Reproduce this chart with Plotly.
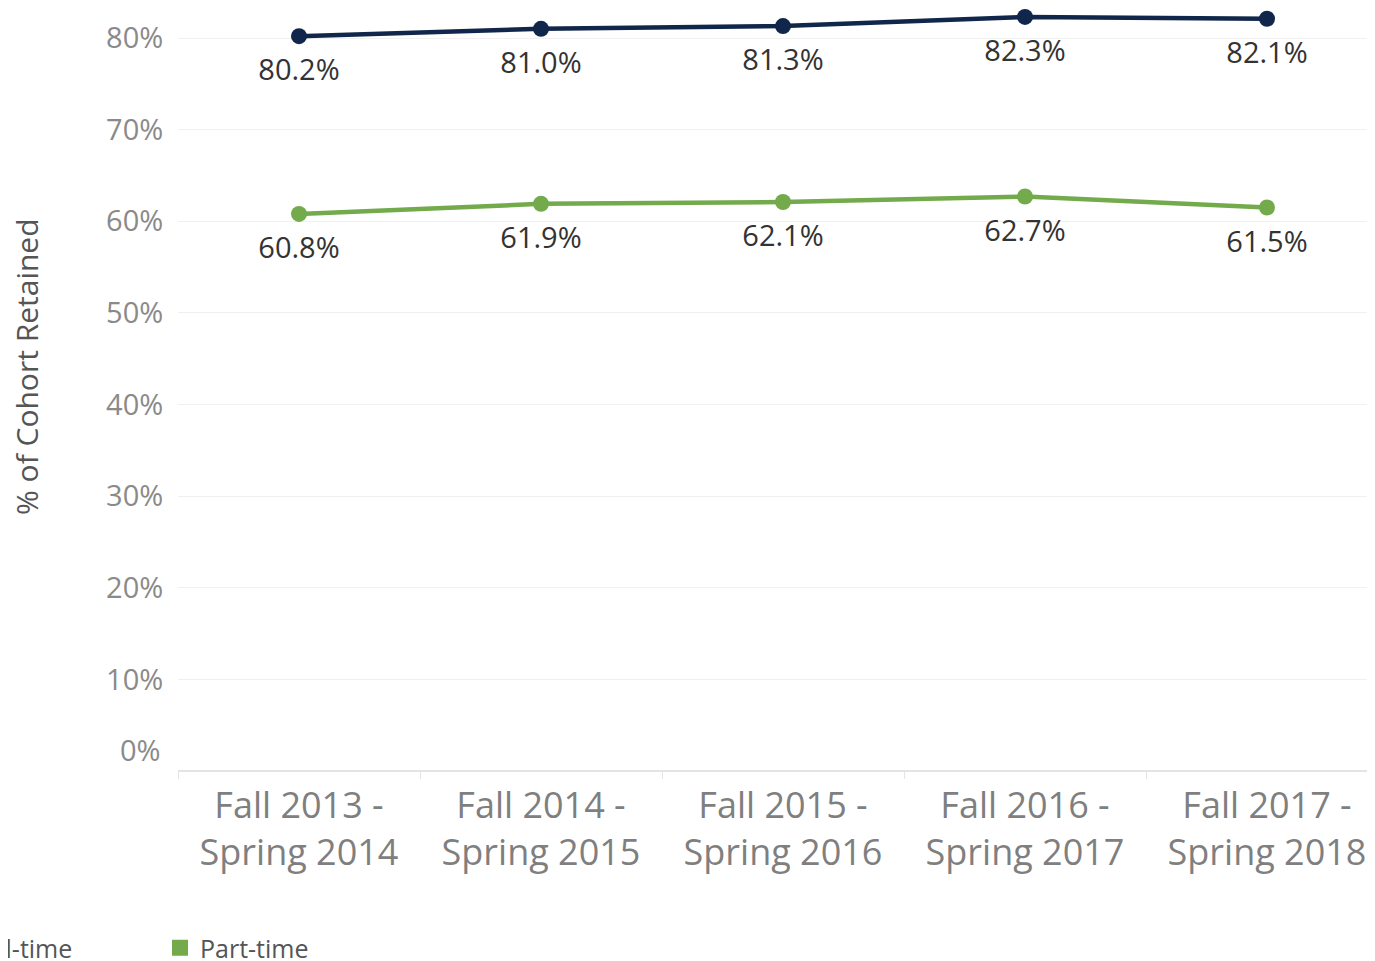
import plotly.graph_objects as go

categories = ["Fall 2013 -<br>Spring 2014", "Fall 2014 -<br>Spring 2015", "Fall 2015 -<br>Spring 2016",
              "Fall 2016 -<br>Spring 2017", "Fall 2017 -<br>Spring 2018"]
full_time = [80.2, 81.0, 81.3, 82.3, 82.1]
part_time = [60.8, 61.9, 62.1, 62.7, 61.5]
y_ticks = [10, 20, 30, 40, 50, 60, 70, 80]
y_tick_labels = ["10%", "20%", "30%", "40%", "50%", "60%", "70%", "80%"]

NAVY = "#10264a"
GREEN = "#72aa4c"
FONT = "Open Sans"

# page has an 8px body margin; figure is sized so it ends at the window edge
W, H = 1367, 953
ML, MB = 170, 190
PLOT_H = H - MB          # 763
PX_PER_PCT = 733 / 80

fig = go.Figure()
for name, vals, col in [("Full-time", full_time, NAVY), ("Part-time", part_time, GREEN)]:
    fig.add_trace(go.Scatter(
        x=categories, y=vals, mode="lines+markers",
        line=dict(color=col, width=4.5), marker=dict(color=col, size=16),
        showlegend=False, cliponaxis=False, hoverinfo="skip"))
    # value labels (transparent larger marker to push the text further below the point)
    fig.add_trace(go.Scatter(
        x=categories, y=vals, mode="markers+text",
        marker=dict(color="rgba(0,0,0,0)", size=34),
        text=[f"{v:.1f}%" for v in vals], textposition="bottom center",
        textfont=dict(family=FONT, size=29, color="#333333"),
        showlegend=False, cliponaxis=False, hoverinfo="skip"))
    fig.add_trace(go.Scatter(
        x=[None], y=[None], mode="markers", name=name,
        marker=dict(color=col, size=16, symbol="square"), showlegend=True))

fig.update_layout(
    width=W, height=H,
    margin=dict(l=ML, r=0, t=0, b=MB, autoexpand=False),
    plot_bgcolor="white", paper_bgcolor="white",
    font=dict(family=FONT),
    xaxis=dict(
        type="category", categoryorder="array", categoryarray=categories,
        range=[-0.5, -0.5 + (W - ML) / 242],
        showgrid=False, zeroline=False, showline=False,
        ticks="outside", ticklen=7, tickcolor="#e4e4e4", tickson="boundaries",
        ticklabelstandoff=10,
        tickfont=dict(family=FONT, size=36, color="#7f7f7f"),
    ),
    yaxis=dict(
        range=[0, PLOT_H / PX_PER_PCT], tickvals=y_ticks, ticktext=y_tick_labels,
        showgrid=True, gridcolor="#f0f0f0", gridwidth=1,
        zeroline=True, zerolinecolor="#e4e4e4", zerolinewidth=1.5,
        showline=False, ticks="outside", ticklen=8, tickcolor="rgba(0,0,0,0)",
        tickfont=dict(family=FONT, size=29, color="#8a8a8a"),
    ),
    legend=dict(orientation="h", x=(-77 - ML) / (W - ML), xanchor="left",
                y=-(948 - 771) / PLOT_H, yanchor="middle",
                font=dict(family=FONT, size=25, color="#555555"), entrywidth=184),
    annotations=[
        dict(text="0%", x=0, xref="paper", y=0, yref="y", xanchor="right", yanchor="middle",
             xshift=-15, yshift=22, showarrow=False,
             font=dict(family=FONT, size=29, color="#8a8a8a")),
        dict(text="% of Cohort Retained", x=(26 - 178) / (W - ML), xref="paper",
             y=(771 - 367) / PLOT_H, yref="paper",
             textangle=-90, showarrow=False, xanchor="center", yanchor="middle",
             font=dict(family=FONT, size=30, color="#555555")),
    ],
)

fig.write_html("out.html")
